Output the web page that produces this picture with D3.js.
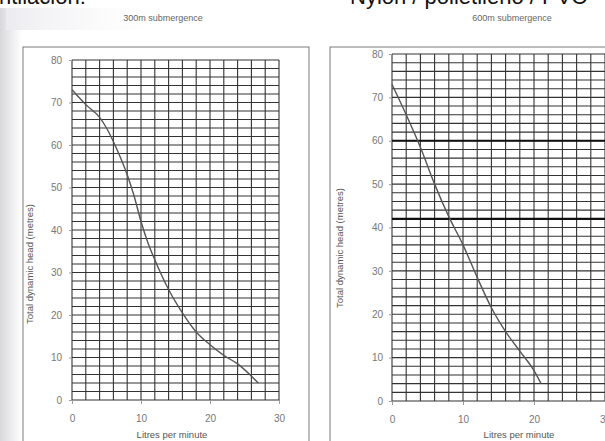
<!DOCTYPE html>
<html>
<head>
<meta charset="utf-8">
<script src="https://cdn.jsdelivr.net/npm/d3@7"></script>
<style>
  html, body { margin: 0; padding: 0; background: #fff; }
  svg { display: block; }
  text { font-family: "Liberation Sans", Arial, sans-serif; }
</style>
</head>
<body>
<svg id="chart" width="605" height="441"></svg>
<script>
// ---- data ----
const leftTitle = "300m submergence";
const rightTitle = "600m submergence";
const xAxisLabel = "Litres per minute";
const yAxisLabel = "Total dynamic head (metres)";
const headerLeft = "ntilación:";
const headerRight = "Nylon / polietileno / PVC";

const xTicks = [0, 10, 20, 30];
const yTicks = [0, 10, 20, 30, 40, 50, 60, 70, 80];

const leftFlow = [0, 2, 4, 5, 6.5, 8, 9, 10, 11, 12, 14, 16, 18, 20, 22, 24, 27];
const leftHead = [73, 69.5, 66.5, 64, 59, 53, 48, 42, 37, 33, 26, 20.5, 16, 13, 10.5, 8.5, 4];

const rightFlow = [0, 2, 4, 6, 8, 10, 12, 14, 16, 18, 20, 21];
const rightHead = [73, 66, 58.5, 50, 42.5, 36, 28.5, 21.5, 16, 11.5, 7, 4];

const rightMarkers = [60, 42];

// ---- drawing ----
const svg = d3.select("#chart");

// scan shading
const defs = svg.append("defs");
const g1 = defs.append("linearGradient").attr("id", "shadeL").attr("x1", 0).attr("x2", 1);
g1.append("stop").attr("offset", 0).attr("stop-color", "#d8d8dc");
g1.append("stop").attr("offset", 1).attr("stop-color", "#ffffff");
const g2 = defs.append("linearGradient").attr("id", "shadeT").attr("x1", 0).attr("x2", 1);
g2.append("stop").attr("offset", 0).attr("stop-color", "#ececf0");
g2.append("stop").attr("offset", 1).attr("stop-color", "#ffffff").attr("stop-opacity", 0);
svg.append("rect").attr("x", 0).attr("y", 8).attr("width", 22).attr("height", 433).attr("fill", "url(#shadeL)");
svg.append("rect").attr("x", 6).attr("y", 8).attr("width", 180).attr("height", 22).attr("fill", "url(#shadeT)");

// header text (cut at top, as in the reference)
svg.append("text").attr("x", -1).attr("y", 4).attr("font-size", 22).attr("fill", "#111").text(headerLeft);
svg.append("text").attr("x", 350).attr("y", 4).attr("font-size", 22).attr("fill", "#111").text(headerRight);

function panel(cfg) {
  const x = d3.scaleLinear().domain([0, 30]).range([cfg.x0, cfg.x1]);
  const y = d3.scaleLinear().domain([0, 80]).range([cfg.y0, cfg.y1]);
  const g = svg.append("g");

  // frame
  g.append("rect")
    .attr("x", cfg.boxX).attr("y", cfg.boxY)
    .attr("width", cfg.boxW).attr("height", 460)
    .attr("fill", "none").attr("stroke", "#7a7a7a").attr("stroke-width", 1);

  // title
  g.append("text").attr("x", cfg.titleX).attr("y", 21)
    .attr("text-anchor", "middle").attr("font-size", 9).attr("fill", "#666")
    .text(cfg.title);

  // grid
  const vx = d3.range(0, 31, 2);
  const hy = d3.range(0, 81, 2);
  g.append("g").selectAll("line").data(vx).join("line")
    .attr("x1", d => x(d)).attr("x2", d => x(d))
    .attr("y1", y(0)).attr("y2", y(80))
    .attr("stroke", "#333").attr("stroke-width", 1.1);
  g.append("g").selectAll("line").data(hy).join("line")
    .attr("x1", x(0)).attr("x2", x(30))
    .attr("y1", d => y(d)).attr("y2", d => y(d))
    .attr("stroke", "#333").attr("stroke-width", 1.1);

  if (cfg.markers) {
    g.append("g").selectAll("line").data(cfg.markers).join("line")
      .attr("x1", x(0)).attr("x2", x(30))
      .attr("y1", d => y(d)).attr("y2", d => y(d))
      .attr("stroke", "#111").attr("stroke-width", 2.2);
  }

  // axes
  const ax = g.append("g").attr("transform", `translate(0,${y(0)})`)
    .call(d3.axisBottom(x).tickValues(xTicks).tickSize(4).tickPadding(11).tickFormat(d3.format("d")));
  const ay = g.append("g").attr("transform", `translate(${x(0)},0)`)
    .call(d3.axisLeft(y).tickValues(yTicks).tickSize(3).tickPadding(cfg.yPad).tickFormat(d3.format("d")));
  [ax, ay].forEach(a => {
    a.select(".domain").remove();
    a.selectAll(".tick line").attr("stroke", "#999");
    a.selectAll("text").attr("fill", "#777").attr("font-size", 10)
      .style("font-family", "'Liberation Sans', Arial, sans-serif");
  });

  // axis labels
  g.append("text").attr("x", cfg.xLabX).attr("y", 438)
    .attr("text-anchor", "middle").attr("font-size", 9.5).attr("fill", "#555")
    .text(xAxisLabel);
  g.append("text")
    .attr("transform", `translate(${cfg.yLabX},${cfg.yLabY}) rotate(-90)`)
    .attr("text-anchor", "middle").attr("font-size", 9.5).attr("fill", "#555")
    .text(yAxisLabel);

  // curve
  const pts = cfg.flow.map((f, i) => [f, cfg.head[i]]);
  g.append("path").datum(pts)
    .attr("fill", "none").attr("stroke", "#555").attr("stroke-width", 1.4)
    .attr("d", d3.line().x(d => x(d[0])).y(d => y(d[1])).curve(d3.curveMonotoneX));
}

panel({
  x0: 72, x1: 279, y0: 400, y1: 60,
  boxX: 23, boxY: 47, boxW: 286,
  title: leftTitle, titleX: 163,
  xLabX: 172, yLabX: 33, yLabY: 264, yPad: 7,
  flow: leftFlow, head: leftHead
});

panel({
  x0: 392, x1: 605, y0: 401, y1: 54,
  boxX: 330, boxY: 47, boxW: 300,
  title: rightTitle, titleX: 512,
  xLabX: 519, yLabX: 343, yLabY: 248, yPad: 6,
  flow: rightFlow, head: rightHead, markers: rightMarkers
});
</script>
</body>
</html>
